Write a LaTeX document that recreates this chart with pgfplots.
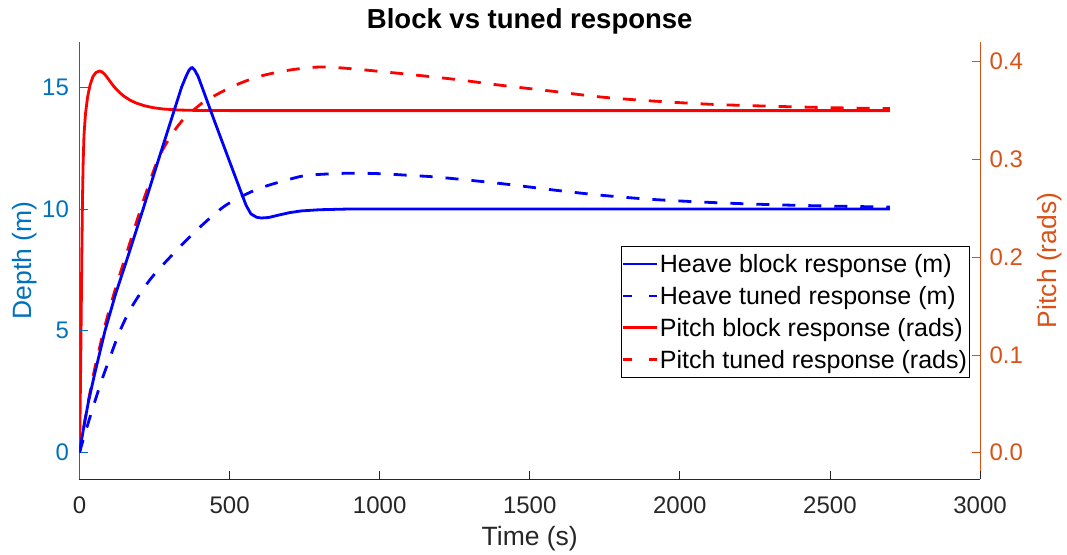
\documentclass[border=0pt]{standalone}
\usepackage{fontspec}
\setmainfont{Liberation Sans}
\usepackage{pgfplots}
\pgfplotsset{compat=1.18}
\definecolor{mblue}{rgb}{0,0.447,0.741}
\definecolor{morange}{rgb}{0.85,0.325,0.098}
\definecolor{mgray}{rgb}{0.15,0.15,0.15}
\newcommand{\tickfont}{\fontsize{24}{28}\selectfont}
\newcommand{\labfont}{\fontsize{26.5}{30}\selectfont}
\pgfplotsset{
  solidlegend/.style={legend image code/.code={\draw[##1, line width=2.8pt] (0pt,0pt) -- (34pt,0pt);}},
  dashlegend/.style={legend image code/.code={\draw[##1, line width=2.8pt, dash pattern=on 9pt off 17pt] (0pt,0pt) -- (34pt,0pt);}},
}
\begin{document}
\begin{tikzpicture}
% ---------- right axis (pitch) ----------
\begin{axis}[
  scale only axis, width=900.5pt, height=437.3pt,
  xmin=0, xmax=3000, ymin=-0.0269, ymax=0.4205,
  axis x line=none, axis y line*=right,
  y axis line style={-, draw=morange, line width=0.8pt},
  ytick={0,0.1,0.2,0.3,0.4},
  tick align=inside, major tick length=8pt,
  y tick style={draw=morange, line width=0.8pt},
  /pgf/number format/assume math mode=true,
  yticklabel style={anchor=west, inner sep=0pt, xshift=9.3pt, font=\tickfont, text=morange,
    /pgf/number format/fixed, /pgf/number format/fixed zerofill, /pgf/number format/precision=1},
  every axis y label/.style={at={([xshift=76pt]axis description cs:1,0.5)}, rotate=90, anchor=base, font=\labfont, text=morange},
  ylabel={Pitch (rads)},
]
\addplot[red, line width=2.8pt, line join=round] coordinates {
(0,0) (2,0.04) (4,0.09) (6,0.15) (8,0.21) (10,0.26) (12,0.295) (15,0.325) (20,0.347) (27,0.364)
(35,0.376) (45,0.385) (55,0.389) (66,0.3905) (75,0.3896) (85,0.3868) (95,0.3828) (105,0.3785)
(113,0.3753) (124,0.3714) (135,0.3681) (150,0.3643) (170,0.3604) (190,0.3576) (215,0.3551)
(245,0.353) (280,0.3516) (330,0.3506) (400,0.3501) (500,0.35) (2700,0.35)};
\addplot[red, line width=2.8pt, dash pattern=on 13pt off 13pt, smooth] coordinates {
(0,0) (25,0.045) (50,0.085) (85,0.13) (120,0.168) (160,0.207) (212,0.257) (260,0.299)
(300,0.322) (340,0.339) (378,0.35) (420,0.36) (512,0.375) (600,0.385) (700,0.3915) (801,0.3946)
(900,0.393) (1068,0.388) (1250,0.382) (1401,0.376) (1570,0.37) (1734,0.364) (1900,0.36)
(2100,0.3565) (2300,0.3545) (2500,0.353) (2700,0.352)};
\end{axis}
% ---------- left axis (depth) ----------
\begin{axis}[
  scale only axis, width=900.5pt, height=437.3pt,
  xmin=0, xmax=3000, ymin=-1.088, ymax=16.87,
  axis x line*=bottom, axis y line*=left,
  x axis line style={-, draw=mgray, line width=0.8pt},
  y axis line style={-, draw=mblue, line width=0.8pt},
  xtick={0,500,1000,1500,2000,2500,3000}, ytick={0,5,10,15},
  scaled x ticks=false,
  tick align=inside, major tick length=8pt,
  x tick style={draw=mgray, line width=0.8pt},
  y tick style={draw=mblue, line width=0.8pt},
  /pgf/number format/assume math mode=true,
  /pgf/number format/1000 sep={},
  xticklabel style={anchor=base, yshift=-34.7pt, font=\tickfont, text=mgray},
  yticklabel style={anchor=east, inner sep=0pt, xshift=-10.4pt, font=\tickfont, text=mblue},
  every axis x label/.style={at={([yshift=-66pt]axis description cs:0.5,0)}, anchor=base, font=\labfont, text=mgray},
  every axis y label/.style={at={([xshift=-47.8pt]axis description cs:0,0.5)}, rotate=90, anchor=base, font=\labfont, text=mblue},
  xlabel={Time (s)}, ylabel={Depth (m)},
  title={Block vs tuned response},
  every axis title/.style={at={([yshift=13.4pt]axis description cs:0.5,1)}, anchor=base, font=\bfseries\fontsize{27.5}{32}\selectfont, text=black},
  legend style={at={(0.9881,0.5335)}, anchor=north east, draw=black, line width=0.6pt, fill=white,
    font=\fontsize{25}{29}\selectfont, inner xsep=1pt, inner ysep=3.5pt, row sep=2.9pt,
    nodes={inner sep=1pt, text height=22pt, text depth=5pt}},
  legend cell align=left,
  solidlegend,
]
\addplot[blue, line width=2.8pt, line join=round] coordinates {
(0,0) (15,1.1) (30,2.1) (50,3.2) (85,5.0) (120,6.5) (160,8.0) (212,10.0) (260,11.9) (300,13.45)
(340,15.0) (355,15.45) (365,15.7) (374,15.82) (383,15.72) (395,15.45) (407,15.05) (450,13.6)
(500,11.95) (538,10.7) (555,10.15) (571,9.8) (590,9.66) (605,9.63) (630,9.65) (660,9.74)
(700,9.85) (738,9.92) (800,9.97) (900,10.0) (2700,10.0)};
\addlegendentry{Heave block response (m)}
\addplot[blue, line width=2.8pt, dash pattern=on 13pt off 13pt, smooth, dashlegend] coordinates {
(0,0) (25,1.05) (50,2.05) (75,3.0) (100,3.85) (135,5.0) (175,6.0) (235,7.1) (300,8.0) (375,8.95)
(446,9.75) (500,10.25) (600,10.85) (734,11.33) (800,11.42) (901,11.47) (1000,11.45) (1100,11.38)
(1200,11.3) (1400,11.05) (1600,10.75) (1734,10.57) (1900,10.4) (2100,10.27) (2300,10.18)
(2500,10.12) (2700,10.08)};
\addlegendentry{Heave tuned response (m)}
\addlegendimage{red, line width=2.8pt, solidlegend}
\addlegendentry{Pitch block response (rads)}
\addlegendimage{red, line width=2.8pt, dashlegend}
\addlegendentry{Pitch tuned response (rads)}
\end{axis}
\pgfresetboundingbox
\path (-79.5pt,-75pt) rectangle (987.5pt,479pt);
\end{tikzpicture}
\end{document}
